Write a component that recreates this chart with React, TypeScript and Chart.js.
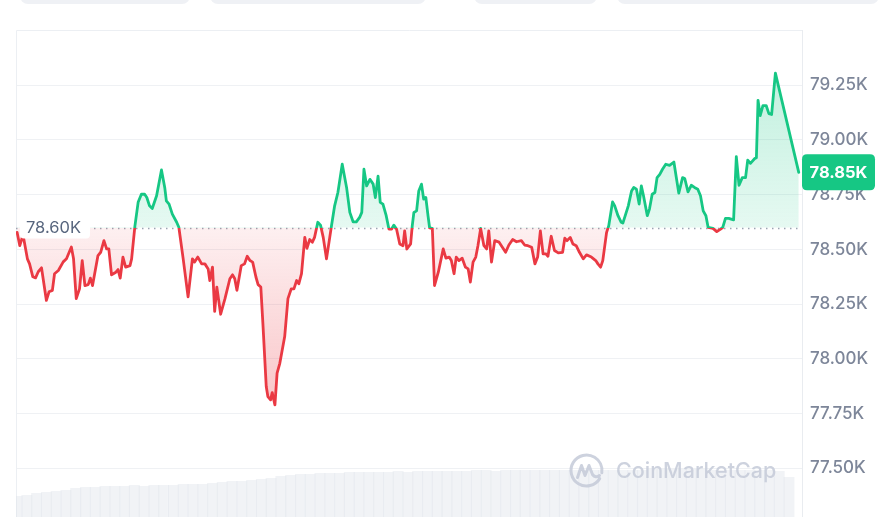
import React, { useEffect, useRef } from 'react';
import { Chart, registerables } from 'chart.js';

Chart.register(...registerables);

// minutes since start of the 24h window
const times = [
  0, 5, 11, 19, 23, 29, 34, 39, 45, 54, 59, 65, 69, 76, 85, 91, 100, 104, 109, 115,
  120, 125, 131, 135, 139, 149, 154, 160, 165, 169, 174, 182, 186, 190, 195, 200, 208, 211, 217, 223,
  229, 235, 239, 244, 249, 257, 266, 272, 275, 280, 286, 294, 298, 306, 315, 323, 327, 333, 340, 346,
  352, 355, 360, 364, 368, 375, 383, 392, 397, 401, 405, 413, 419, 424, 429, 434, 440, 444, 449, 453,
  459, 462, 467, 470, 475, 479, 484, 493, 499, 505, 510, 515, 519, 524, 530, 534, 539, 544, 548, 554,
  559, 564, 570, 576, 579, 585, 591, 599, 607, 613, 619, 625, 631, 635, 639, 644, 650, 656, 660, 665,
  669, 674, 680, 685, 690, 694, 699, 705, 711, 714, 718, 725, 728, 731, 736, 740, 745, 749, 753, 757,
  760, 765, 769, 776, 785, 790, 796, 800, 805, 809, 814, 820, 826, 831, 835, 840, 845, 849, 854, 860,
  865, 869, 874, 880, 888, 894, 900, 906, 913, 920, 929, 935, 941, 948, 954, 959, 964, 969, 974, 978,
  984, 990, 997, 1005, 1009, 1013, 1019, 1024, 1030, 1036, 1043, 1049, 1058, 1066, 1070, 1075, 1079, 1086, 1090, 1097,
  1101, 1107, 1113, 1116, 1126, 1132, 1136, 1141, 1146, 1150, 1154, 1161, 1165, 1170, 1175, 1179, 1184, 1189, 1195, 1202,
  1210, 1213, 1219, 1226, 1230, 1236, 1242, 1248, 1254, 1259, 1264, 1269, 1273, 1282, 1289, 1296, 1300, 1305, 1311, 1320,
  1325, 1330, 1336, 1342, 1346, 1351, 1359, 1362, 1365, 1369, 1374, 1380, 1385, 1390, 1397, 1440,
];

// price in USD
const prices = [
  78578, 78517, 78566, 78457, 78434, 78375, 78370, 78398, 78416, 78267, 78307, 78313, 78389, 78404, 78443, 78457, 78511, 78457, 78275, 78320,
  78449, 78335, 78339, 78369, 78335, 78472, 78487, 78540, 78502, 78502, 78384, 78396, 78408, 78369, 78465, 78419, 78426, 78457, 78605, 78715,
  78752, 78752, 78737, 78699, 78687, 78745, 78863, 78783, 78722, 78707, 78661, 78624, 78601, 78457, 78283, 78457, 78442, 78465, 78434, 78434,
  78411, 78358, 78419, 78217, 78328, 78204, 78275, 78366, 78384, 78366, 78313, 78426, 78434, 78469, 78449, 78442, 78374, 78339, 78328, 78154,
  77874, 77828, 77813, 77846, 77790, 77935, 77980, 78102, 78275, 78320, 78320, 78358, 78343, 78389, 78555, 78505, 78545, 78533, 78555, 78624,
  78611, 78555, 78457, 78555, 78605, 78699, 78760, 78889, 78783, 78669, 78626, 78626, 78646, 78669, 78866, 78790, 78820, 78798, 78737, 78835,
  78715, 78707, 78654, 78593, 78593, 78611, 78593, 78525, 78517, 78585, 78502, 78525, 78608, 78669, 78676, 78767, 78798, 78730, 78737, 78654,
  78598, 78596, 78335, 78396, 78502, 78460, 78465, 78449, 78389, 78465, 78449, 78460, 78419, 78411, 78351, 78442, 78465, 78517, 78596, 78517,
  78502, 78585, 78442, 78540, 78533, 78510, 78487, 78520, 78545, 78535, 78540, 78520, 78517, 78510, 78434, 78465, 78585, 78480, 78480, 78469,
  78560, 78495, 78484, 78487, 78551, 78540, 78555, 78525, 78517, 78487, 78457, 78475, 78465, 78449, 78434, 78419, 78449, 78578, 78608, 78717,
  78699, 78654, 78624, 78620, 78699, 78767, 78783, 78775, 78707, 78790, 78745, 78654, 78684, 78752, 78760, 78828, 78843, 78866, 78889, 78884,
  78899, 78851, 78757, 78828, 78824, 78763, 78793, 78783, 78775, 78745, 78676, 78654, 78601, 78596, 78581, 78593, 78601, 78642, 78642, 78635,
  78924, 78793, 78828, 78828, 78908, 78893, 78915, 78919, 79181, 79111, 79157, 79157, 79120, 79116, 79305, 78852,
];

// volume buckets (18 minutes each)
const volumeStep = 18;
const volumes = [
  21, 22, 24, 25, 26, 27, 29, 30, 30, 31, 31, 31, 32, 31, 32, 32, 32, 33, 33, 33,
  34, 35, 36, 36, 37, 38, 39, 41, 42, 43, 43, 44, 44, 44, 45, 45, 45, 45, 45, 46,
  45, 46, 46, 46, 46, 46, 46, 47, 47, 46, 47, 47, 47, 47, 47, 47, 47, 47, 47, 47,
  47, 47, 47, 47, 47, 48, 48, 48, 48, 48, 48, 47, 47, 47, 47, 47, 47, 47, 46, 40,
];

const yTicks = [77500, 77750, 78000, 78250, 78500, 78750, 79000, 79250];
const baselinePrice = 78600;
const yMin = 77278;
const yMax = 79502;
const xMin = -2;
const xMax = 1446;

const GREEN = '#16c784';
const RED = '#ea3943';

const fmtK = (v: number) => (v / 1000).toFixed(2) + 'K';

function baseFrac(chart: any) {
  const a = chart.chartArea;
  const y = chart.scales.y;
  const by = y.getPixelForValue(baselinePrice);
  return Math.min(1, Math.max(0, (by - a.top) / (a.bottom - a.top)));
}

function lineGradient(chart: any) {
  const a = chart.chartArea;
  const g = chart.ctx.createLinearGradient(0, a.top, 0, a.bottom);
  const f = baseFrac(chart);
  g.addColorStop(0, GREEN);
  g.addColorStop(f, GREEN);
  g.addColorStop(f, RED);
  g.addColorStop(1, RED);
  return g;
}

function fillGradient(chart: any) {
  const a = chart.chartArea;
  const g = chart.ctx.createLinearGradient(0, a.top, 0, a.bottom);
  const f = baseFrac(chart);
  g.addColorStop(0, 'rgba(22,199,132,0.30)');
  g.addColorStop(f, 'rgba(22,199,132,0.11)');
  g.addColorStop(f, 'rgba(234,57,67,0.08)');
  g.addColorStop(Math.min(1, f + 0.35), 'rgba(234,57,67,0.28)');
  g.addColorStop(1, 'rgba(234,57,67,0.30)');
  return g;
}

function roundRect(ctx: CanvasRenderingContext2D, x: number, y: number, w: number, h: number, r: number) {
  ctx.beginPath();
  ctx.moveTo(x + r, y);
  ctx.lineTo(x + w - r, y);
  ctx.quadraticCurveTo(x + w, y, x + w, y + r);
  ctx.lineTo(x + w, y + h - r);
  ctx.quadraticCurveTo(x + w, y + h, x + w - r, y + h);
  ctx.lineTo(x + r, y + h);
  ctx.quadraticCurveTo(x, y + h, x, y + h - r);
  ctx.lineTo(x, y + r);
  ctx.quadraticCurveTo(x, y, x + r, y);
  ctx.closePath();
}

const overlayPlugin = {
  id: 'cmcOverlay',
  beforeDatasetsDraw(chart: any) {
    const { ctx, chartArea: a, scales } = chart;
    ctx.save();
    ctx.strokeStyle = '#eceff3';
    ctx.lineWidth = 1;
    ctx.beginPath();
    ctx.moveTo(a.left + 0.5, a.bottom);
    ctx.lineTo(a.left + 0.5, a.top + 0.5);
    ctx.lineTo(a.right, a.top + 0.5);
    ctx.stroke();
    const by = Math.round(scales.y.getPixelForValue(baselinePrice)) + 0.5;
    ctx.setLineDash([1.5, 4.5]);
    ctx.strokeStyle = '#9da5b3';
    ctx.lineWidth = 1.5;
    ctx.beginPath();
    ctx.moveTo(a.left, by);
    ctx.lineTo(a.right, by);
    ctx.stroke();
    ctx.restore();
  },
  afterDatasetsDraw(chart: any) {
    const { ctx, scales } = chart;
    ctx.save();
    // watermark
    const cx = 586.5, cy = 470.5;
    const wm = 'rgba(196,202,216,0.85)';
    ctx.strokeStyle = wm;
    ctx.lineWidth = 3;
    ctx.lineCap = 'round';
    ctx.lineJoin = 'round';
    ctx.beginPath();
    ctx.arc(cx, cy, 15.5, 0.55, Math.PI * 2 + 0.15);
    ctx.stroke();
    ctx.beginPath();
    ctx.moveTo(cx - 9, cy + 7);
    ctx.lineTo(cx - 5, cy - 5);
    ctx.lineTo(cx - 1.5, cy + 5);
    ctx.lineTo(cx + 2.5, cy - 5);
    ctx.lineTo(cx + 6, cy + 4);
    ctx.quadraticCurveTo(cx + 9, cy + 8, cx + 13, cy + 5);
    ctx.stroke();
    ctx.fillStyle = wm;
    ctx.font = '500 21.5px Inter';
    ctx.textAlign = 'left';
    ctx.textBaseline = 'middle';
    ctx.fillText('CoinMarketCap', 616, 472);

    // baseline label
    const by = scales.y.getPixelForValue(baselinePrice);
    ctx.fillStyle = '#ffffff';
    roundRect(ctx, 20, by - 11, 70, 22, 4);
    ctx.fill();
    ctx.fillStyle = '#58667e';
    ctx.font = '400 16.5px Inter';
    ctx.textBaseline = 'middle';
    ctx.fillText(fmtK(baselinePrice), 26, by + 1);
    ctx.restore();
  },
  afterDraw(chart: any) {
    const { ctx, scales, chartArea: a } = chart;
    const last = prices[prices.length - 1];
    const py = scales.y.getPixelForValue(last);
    ctx.save();
    ctx.fillStyle = last >= baselinePrice ? GREEN : RED;
    roundRect(ctx, a.right, py - 18, 73, 36, 5);
    ctx.fill();
    ctx.fillStyle = '#ffffff';
    ctx.font = '700 16.5px Inter';
    ctx.textAlign = 'center';
    ctx.textBaseline = 'middle';
    ctx.fillText(fmtK(last), a.right + 36.5, py + 1);
    ctx.restore();
  },
};

export default function App() {
  const ref = useRef<HTMLCanvasElement | null>(null);

  useEffect(() => {
    document.body.style.margin = '0';
    const canvas = ref.current;
    if (!canvas) return;
    Chart.defaults.font.family = 'Inter';
    const lineData = times.map((t, i) => ({ x: t, y: prices[i] }));
    const volData = volumes.map((v, i) => ({ x: i * volumeStep, y: v }));
    const chart = new Chart(canvas, {
      type: 'line',
      data: {
        datasets: [
          {
            type: 'line',
            data: lineData,
            xAxisID: 'x',
            yAxisID: 'y',
            order: 1,
            borderWidth: 2.8,
            pointRadius: 0,
            tension: 0,
            borderJoinStyle: 'round',
            borderCapStyle: 'round',
            borderColor: (c: any) => (c.chart.chartArea ? lineGradient(c.chart) : GREEN),
            backgroundColor: (c: any) => (c.chart.chartArea ? fillGradient(c.chart) : 'rgba(22,199,132,0.15)'),
            fill: { value: baselinePrice },
          } as any,
          {
            type: 'bar',
            data: volData,
            xAxisID: 'x',
            yAxisID: 'yv',
            order: 2,
            backgroundColor: 'rgba(222,226,234,0.42)',
            borderWidth: 0,
            barPercentage: 1.12,
            categoryPercentage: 1,
          } as any,
        ],
      },
      options: {
        animation: false,
        responsive: false,
        devicePixelRatio: 1,
        layout: { padding: { left: 16, top: 30, right: 0, bottom: 0 } },
        plugins: { legend: { display: false }, tooltip: { enabled: false } },
        scales: {
          x: { type: 'linear', min: xMin, max: xMax, display: false, offset: false, grid: { offset: false } },
          yv: { type: 'linear', min: 0, max: 487, display: false, position: 'left' },
          y: {
            type: 'linear',
            position: 'right',
            min: yMin,
            max: yMax,
            afterBuildTicks: (s: any) => {
              s.ticks = yTicks.map((v) => ({ value: v }));
            },
            afterFit: (s: any) => {
              s.width = 77;
              s.paddingTop = 0;
              s.paddingBottom = 0;
            },
            grid: { color: '#eff1f4', lineWidth: 1, drawTicks: false },
            border: { display: true, color: '#e9ecf0' },
            ticks: {
              padding: 8,
              color: '#7d8699',
              font: { family: 'Inter', size: 17, weight: '500' as any },
              callback: (v: any) => fmtK(Number(v)),
            },
          },
        },
      },
      plugins: [overlayPlugin],
    });
    return () => chart.destroy();
  }, []);

  const pills = [
    [20, 190],
    [210, 426],
    [474, 597],
    [617, 879],
  ];

  return (
    <div style={{ position: 'absolute', left: 0, top: 0, width: 879, height: 517, overflow: 'hidden', background: '#fff' }}>
      {pills.map(([l, r], i) => (
        <div
          key={i}
          style={{ position: 'absolute', left: l, top: -20, width: r - l, height: 24, borderRadius: 8, background: '#eff1f5' }}
        />
      ))}
      <canvas ref={ref} width={879} height={517} style={{ position: 'absolute', left: 0, top: 0, width: 879, height: 517 }} />
    </div>
  );
}
